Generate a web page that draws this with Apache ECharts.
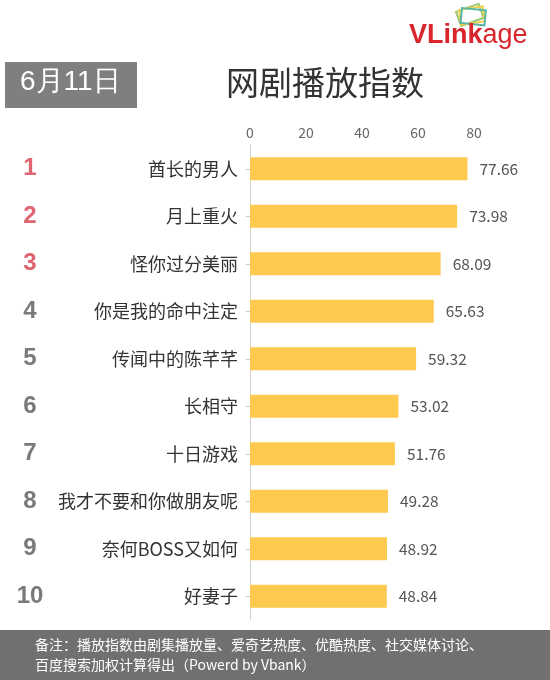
<!DOCTYPE html>
<html><head><meta charset="utf-8">
<script src="https://cdn.jsdelivr.net/npm/echarts@6/dist/echarts.min.js"></script>
<style>html,body{margin:0;padding:0;background:#fff}#c{width:550px;height:680px}</style>
</head><body><div id="c"></div>
<script>
const ranks = ['1','2','3','4','5','6','7','8','9','10'];
const titles = ['酋长的男人','月上重火','怪你过分美丽','你是我的命中注定','传闻中的陈芊芊','长相守','十日游戏','我才不要和你做朋友呢','奈何BOSS又如何','好妻子'];
const values = [77.66, 73.98, 68.09, 65.63, 59.32, 53.02, 51.76, 49.28, 48.92, 48.84];
const xTicks = [0, 20, 40, 60, 80];
const dateText = '6月11日';
const chartTitle = '网剧播放指数';
const noteText = '备注：播放指数由剧集播放量、爱奇艺热度、优酷热度、社交媒体讨论、\n百度搜索加权计算得出（Powerd by Vbank）';

const font = '"Noto Sans CJK SC", "Microsoft YaHei", sans-serif';
const chart = echarts.init(document.getElementById('c'), null, {renderer: 'canvas'});
chart.setOption({
  backgroundColor: '#ffffff',
  textStyle: {fontFamily: font},
  grid: {left: 250, right: 34, top: 145, bottom: 60, containLabel: false},
  xAxis: {
    type: 'value', position: 'top', min: 0, max: 95, interval: 20,
    axisLine: {show: false}, axisTick: {show: false}, splitLine: {show: false},
    axisLabel: {color: '#666', fontSize: 14, margin: 5, showMaxLabel: false,
      formatter: v => xTicks.includes(v) ? String(v) : ''}
  },
  yAxis: [{
    type: 'category', data: titles, inverse: true,
    axisLine: {show: true, lineStyle: {color: '#d0d0d0', width: 1}},
    axisTick: {show: true, alignWithLabel: true, length: 4, lineStyle: {color: '#c8c8c8'}},
    axisLabel: {color: '#333', fontSize: 18, margin: 12}
  }, {
    type: 'category', data: ranks, inverse: true, position: 'left', offset: 220,
    axisLine: {show: false}, axisTick: {show: false},
    axisLabel: {fontSize: 24, fontWeight: 'bold', align: 'center', margin: 0,
      padding: [6, 0, 0, 0],
      fontFamily: 'Arial, "Liberation Sans", sans-serif',
      color: (v, i) => (Number(v) <= 3 ? '#dd6470' : '#7a7a7a')}
  }],
  series: [{
    type: 'bar', data: values, barWidth: 23, yAxisIndex: 0,
    itemStyle: {color: '#fdc94f'},
    label: {show: true, position: 'right', distance: 12, color: '#555', fontSize: 15.5,
      formatter: p => p.value.toFixed(2)}
  }],
  graphic: [
    {type: 'rect', left: 5, top: 62, shape: {width: 132, height: 46}, style: {fill: '#7f7f7f'}},
    {type: 'text', left: 20, top: 68, style: {text: dateText, fill: '#fff', fontSize: 28, font: '28px ' + font}},
    {type: 'text', left: 226, top: 66, style: {text: chartTitle, fill: '#333', font: '33px ' + font}},
    {type: 'rect', left: 0, top: 630, shape: {width: 550, height: 50}, style: {fill: '#707070'}},
    {type: 'text', left: 35, top: 635, style: {text: noteText, fill: '#fff', font: '14px ' + font, lineHeight: 20}},
    // logo
    {type: 'rect', x: 456, y: 12, rotation: 0.35, shape: {width: 24, height: 15}, style: {fill: 'none', stroke: '#9bc870', lineWidth: 2}},
    {type: 'rect', x: 459, y: 10, rotation: 0.15, shape: {width: 24, height: 15}, style: {fill: 'none', stroke: '#f2cf4a', lineWidth: 2}},
    {type: 'rect', x: 462, y: 8, rotation: -0.1, shape: {width: 24, height: 15}, style: {fill: 'none', stroke: '#57b6a8', lineWidth: 2}},
    {type: 'text', left: 409, top: 22, style: {
      text: '{a|VLink}{b|age}',
      rich: {
        a: {fill: '#d9262c', font: 'bold 27px Arial, "Liberation Sans", sans-serif'},
        b: {fill: '#d9262c', font: '27px Arial, "Liberation Sans", sans-serif'}
      }}}
  ]
});
</script></body></html>
